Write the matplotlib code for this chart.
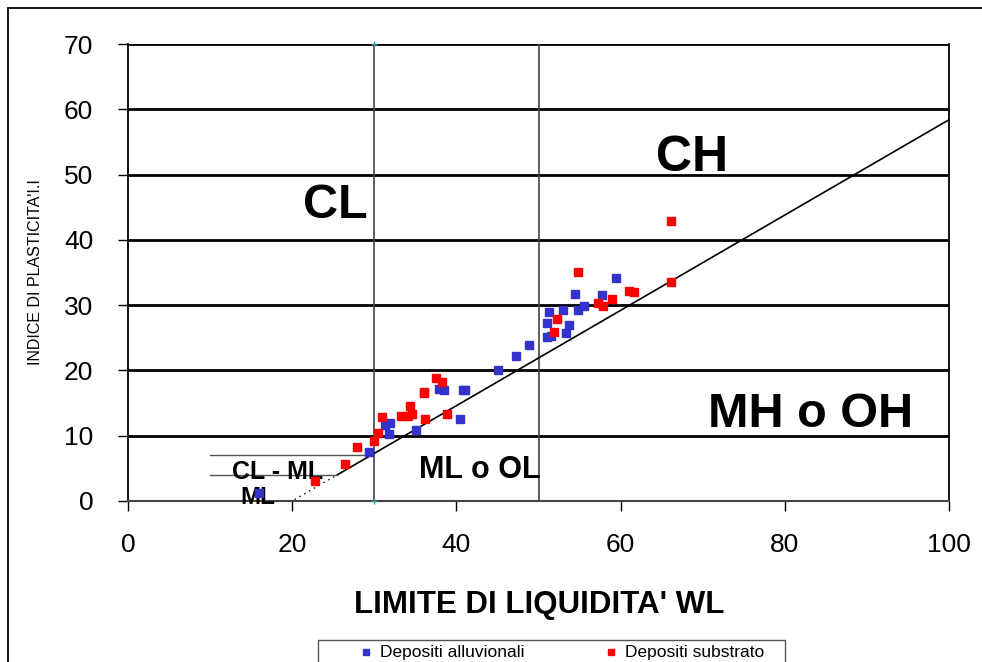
import numpy as np
import matplotlib.pyplot as plt
from matplotlib.patches import Rectangle
from matplotlib.lines import Line2D

plt.rcParams['font.family'] = ['Liberation Sans', 'DejaVu Sans']

# Depositi alluvionali (blue)
alluvLL = [16.0, 29.3, 31.3, 31.9, 31.8, 35.1, 37.9, 38.5, 40.4, 40.8, 41.1,
           45.1, 47.2, 48.9, 51.0, 51.5, 53.4, 53.7, 51.0, 51.3, 53.0, 54.8,
           55.6, 54.4, 57.7, 59.5]
alluvPI = [1.2, 7.5, 11.6, 12.0, 10.3, 10.8, 17.2, 17.0, 12.5, 17.0, 17.0,
           20.1, 22.2, 23.9, 25.1, 25.3, 25.7, 26.9, 27.3, 29.0, 29.2, 29.2,
           29.9, 31.7, 31.6, 34.2]

# Depositi substrato (red)
substLL = [22.8, 26.4, 27.9, 30.0, 30.4, 30.9, 33.3, 34.1, 34.6, 34.3, 36.2,
           36.0, 36.1, 37.5, 38.2, 38.9, 51.9, 52.3, 54.8, 57.3, 57.9, 58.9,
           61.0, 61.6, 66.1, 66.1]
substPI = [3.1, 5.7, 8.3, 9.2, 10.4, 12.8, 13.0, 13.0, 13.3, 14.5, 12.5,
           16.5, 16.7, 18.8, 18.2, 13.4, 25.9, 27.9, 35.1, 30.4, 29.9, 30.9,
           32.2, 32.0, 33.5, 42.9]

xTicks = [0, 20, 40, 60, 80, 100]
yTicks = [0, 10, 20, 30, 40, 50, 60, 70]

W, H = 982, 662

def fx(px):
    return px / W

def fy(py):
    return 1 - py / H

fig = plt.figure(figsize=(W / 100, H / 100), dpi=100)
ax = fig.add_axes([fx(128), fy(501), 821 / W, 457 / H])

# frame around the figure (only top/left visible)
fig.patches.append(Rectangle((fx(8), -0.2), 1.2, 1.2 - 8 / H, transform=fig.transFigure,
                             fill=False, edgecolor='black', linewidth=1.3))

# horizontal grid
for yv in yTicks[1:]:
    ax.axhline(yv, color='black', linewidth=2.0, zorder=1)

# vertical limits LL = 30 and 50
ax.axvline(30, color='#444444', linewidth=1.2, zorder=1)
ax.axvline(50, color='#444444', linewidth=1.2, zorder=1)

# A-line PI = 0.73 (LL - 20)
llSolid = np.array([25.5, 100])
ax.plot(llSolid, 0.73 * (llSolid - 20), color='black', linewidth=1.2, zorder=2)
llDot = np.array([20.3, 25.5])
ax.plot(llDot, 0.73 * (llDot - 20), color='black', linewidth=1.0, linestyle=(0, (1, 3)), zorder=2)

# CL-ML band
ax.plot([10, 29.6], [7, 7], color='#555555', linewidth=1.0, zorder=2)
ax.plot([10, 25.5], [4, 4], color='#555555', linewidth=1.0, zorder=2)

# small markers on LL = 30
ax.plot([30, 30], [0, 70], linestyle='none', marker='+', color='#2a9d9d', markersize=5,
        clip_on=False, zorder=3)

ax.plot(alluvLL, alluvPI, linestyle='none', marker='s', markersize=5.5, color='#3333cc', zorder=4)
ax.plot(substLL, substPI, linestyle='none', marker='s', markersize=5.5, color='#ff0000', zorder=4)

ax.text(25.2, 45.3, 'CL', fontsize=35, fontweight='bold', ha='center', va='center')
ax.text(68.7, 52.6, 'CH', fontsize=36, fontweight='bold', ha='center', va='center')
ax.text(83.1, 13.3, 'MH o OH', fontsize=35, fontweight='bold', ha='center', va='center')
ax.text(42.9, 4.7, 'ML o OL', fontsize=22, fontweight='bold', ha='center', va='center')
ax.text(18.2, 4.4, 'CL - ML', fontsize=18, fontweight='bold', ha='center', va='center')
ax.text(15.8, 0.6, 'ML', fontsize=17.5, fontweight='bold', ha='center', va='center')

ax.set_xlim(0, 100)
ax.set_ylim(0, 70)
ax.set_xticks(xTicks)
ax.set_yticks(yTicks)
ax.tick_params(axis='both', direction='out', length=7, width=1, labelsize=19)
ax.tick_params(axis='x', pad=16)
ax.tick_params(axis='y', pad=18)

ax.spines['top'].set_visible(False)
ax.spines['left'].set_linewidth(1.3)
ax.spines['right'].set_linewidth(1.3)
ax.spines['bottom'].set_color('#444444')
ax.spines['bottom'].set_linewidth(1.5)

fig.text(fx(539), fy(605), "LIMITE DI LIQUIDITA' WL", fontsize=22.5, fontweight='bold',
         ha='center', va='center')
fig.text(fx(36), fy(272), "INDICE DI PLASTICITA'I.I", fontsize=11.5, rotation=90,
         ha='center', va='center')

# legend box (cut by the bottom edge)
fig.patches.append(Rectangle((fx(318), fy(690)), (785 - 318) / W, 50 / H, transform=fig.transFigure,
                             fill=False, edgecolor='#555555', linewidth=1.0))
legendNames = ['Depositi alluvionali', 'Depositi substrato']
legendColors = ['#3333cc', '#ff0000']
legendX = [366, 611]
for name, col, px in zip(legendNames, legendColors, legendX):
    fig.add_artist(Line2D([fx(px)], [fy(652)], linestyle='none', marker='s', markersize=5,
                          color=col, transform=fig.transFigure))
    fig.text(fx(px + 14), fy(652), name, fontsize=12.5, ha='left', va='center')

fig.savefig('out.png', dpi=100)
